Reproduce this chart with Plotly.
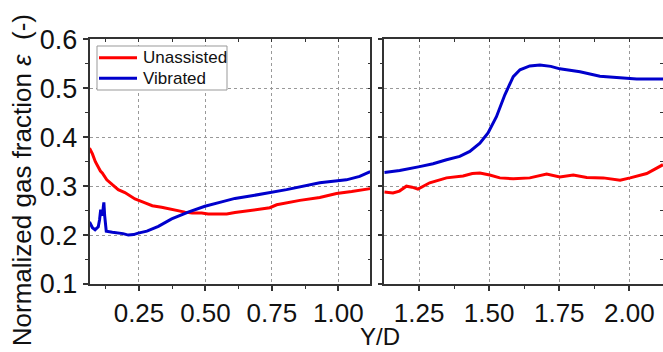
import plotly.graph_objects as go

# ---- data ----
uL_x = [0.064, 0.075, 0.086, 0.097, 0.105, 0.112, 0.118, 0.122, 0.129, 0.15, 0.172, 0.197, 0.235,
        0.273, 0.30, 0.335, 0.385, 0.423, 0.45, 0.486, 0.51, 0.548, 0.58, 0.611, 0.68, 0.742,
        0.768, 0.805, 0.855, 0.93, 0.993, 1.05, 1.12]
uL_y = [0.378, 0.366, 0.350, 0.338, 0.331, 0.327, 0.322, 0.320, 0.313, 0.303, 0.293, 0.287, 0.274,
        0.266, 0.260, 0.257, 0.251, 0.247, 0.245, 0.245, 0.243, 0.243, 0.243, 0.246, 0.251, 0.256,
        0.262, 0.266, 0.271, 0.277, 0.285, 0.289, 0.295]

vL_x = [0.064, 0.075, 0.085, 0.097, 0.102, 0.106, 0.110, 0.113, 0.116, 0.118, 0.121, 0.124, 0.127,
        0.15, 0.172, 0.19, 0.21, 0.23, 0.247, 0.28, 0.323, 0.373, 0.435, 0.498, 0.561, 0.611,
        0.68, 0.805, 0.93, 1.03, 1.08, 1.12]
vL_y = [0.227, 0.215, 0.211, 0.217, 0.232, 0.252, 0.243, 0.240, 0.258, 0.267, 0.240, 0.212, 0.208,
        0.206, 0.205, 0.203, 0.200, 0.201, 0.204, 0.208, 0.218, 0.233, 0.247, 0.259, 0.268, 0.275,
        0.281, 0.293, 0.307, 0.313, 0.320, 0.330]

uR_x = [1.126, 1.157, 1.18, 1.205, 1.225, 1.246, 1.265, 1.288, 1.348, 1.407, 1.44, 1.467, 1.502,
        1.538, 1.586, 1.645, 1.705, 1.752, 1.8, 1.848, 1.907, 1.967, 2.003, 2.062, 2.12]
uR_y = [0.288, 0.286, 0.290, 0.300, 0.298, 0.294, 0.300, 0.307, 0.317, 0.321, 0.326, 0.327, 0.323,
        0.317, 0.315, 0.317, 0.325, 0.319, 0.323, 0.318, 0.317, 0.312, 0.317, 0.326, 0.344]

vR_x = [1.126, 1.181, 1.252, 1.30, 1.348, 1.395, 1.431, 1.467, 1.496, 1.526, 1.556, 1.586, 1.61,
        1.645, 1.681, 1.72, 1.752, 1.824, 1.895, 1.967, 2.026, 2.12]
vR_y = [0.328, 0.332, 0.340, 0.346, 0.354, 0.361, 0.371, 0.388, 0.409, 0.442, 0.487, 0.524, 0.538,
        0.546, 0.548, 0.545, 0.540, 0.534, 0.525, 0.522, 0.519, 0.519]

series_names = ["Unassisted", "Vibrated"]
series_colors = ["#ff0000", "#0000cc"]

xL_ticks = [0.25, 0.50, 0.75, 1.00]
xR_ticks = [1.25, 1.50, 1.75, 2.00]
y_ticks = [0.1, 0.2, 0.3, 0.4, 0.5, 0.6]

FONT = "Liberation Sans, Arial, sans-serif"
AX = "#333333"
W, H = 663, 352

fig = go.Figure()
fig.add_trace(go.Scatter(x=uL_x, y=uL_y, mode="lines", name=series_names[0], showlegend=False,
                         line=dict(color=series_colors[0], width=3), xaxis="x", yaxis="y"))
fig.add_trace(go.Scatter(x=vL_x, y=vL_y, mode="lines", name=series_names[1], showlegend=False,
                         line=dict(color=series_colors[1], width=3), xaxis="x", yaxis="y"))
fig.add_trace(go.Scatter(x=uR_x, y=uR_y, mode="lines", name=series_names[0], showlegend=False,
                         line=dict(color=series_colors[0], width=3), xaxis="x2", yaxis="y2"))
fig.add_trace(go.Scatter(x=vR_x, y=vR_y, mode="lines", name=series_names[1], showlegend=False,
                         line=dict(color=series_colors[1], width=3), xaxis="x2", yaxis="y2"))
# dummy traces so the mirror (inside-tick) axes render
fig.add_trace(go.Scatter(x=[None], y=[None], xaxis="x3", yaxis="y3", showlegend=False, hoverinfo="skip"))
fig.add_trace(go.Scatter(x=[None], y=[None], xaxis="x4", yaxis="y4", showlegend=False, hoverinfo="skip"))

ydom = [0.1932, 0.8878]
xdomL = [0.135, 0.5585]
xdomR = [0.5796, 1.0]
xrL = [0.064, 1.12]
xrR = [1.126, 2.12]
yr = [0.1, 0.6]

def xmain(dom, rng, ticks, anchor):
    return dict(domain=dom, range=rng, anchor=anchor, tickvals=ticks, automargin=False,
                ticktext=["%.2f" % t for t in ticks], ticks="outside", ticklen=5, tickwidth=1.5,
                tickcolor=AX, showline=True, linecolor=AX, linewidth=1.5, showgrid=True,
                gridcolor="#999999", griddash="dot", gridwidth=1, zeroline=False,
                tickfont=dict(size=26, color="#111", family=FONT),
                minor=dict(ticks="outside", ticklen=3, tickwidth=1.2, tickcolor=AX,
                           dtick=0.125, tick0=0, showgrid=False))

def ymain(anchor, labels):
    return dict(domain=ydom, range=yr, anchor=anchor, tickvals=y_ticks, automargin=False,
                ticktext=["%.1f" % t for t in y_ticks], showticklabels=labels,
                ticks="outside", ticklen=5, tickwidth=1.5, tickcolor=AX, showline=True,
                linecolor=AX, linewidth=1.5, showgrid=True, gridcolor="#999999", griddash="dot",
                gridwidth=1, zeroline=False, tickfont=dict(size=27, color="#111", family=FONT),
                minor=dict(ticks="outside", ticklen=3, tickwidth=1.2, tickcolor=AX,
                           dtick=0.05, tick0=0, showgrid=False))

def xmirror(over, rng, anchor):
    return dict(overlaying=over, side="top", anchor=anchor, range=rng, showticklabels=False,
                ticks="inside", ticklen=3, tickwidth=1.2, tickcolor=AX, dtick=0.125, tick0=0,
                automargin=False, showline=True, linecolor=AX, linewidth=1.5, showgrid=False,
                zeroline=False)

def ymirror(over, anchor):
    return dict(overlaying=over, side="right", anchor=anchor, range=yr, showticklabels=False,
                ticks="inside", ticklen=3, tickwidth=1.2, tickcolor=AX, dtick=0.05, tick0=0,
                automargin=False, showline=True, linecolor=AX, linewidth=1.5, showgrid=False,
                zeroline=False)

def px(x):
    return x / W

def py(y):
    return (H - y) / H

# legend box (drawn in paper coordinates)
leg_rows_y = [57.7, 78.3]
shapes = [dict(type="rect", xref="paper", yref="paper", x0=px(97), x1=px(227), y0=py(90), y1=py(46),
               line=dict(color="#999999", width=1), fillcolor="white", layer="above")]
annotations = []
for name, col, ry in zip(series_names, series_colors, leg_rows_y):
    shapes.append(dict(type="line", xref="paper", yref="paper", x0=px(99), x1=px(137),
                       y0=py(ry), y1=py(ry), line=dict(color=col, width=3), layer="above"))
    annotations.append(dict(text=name, xref="paper", yref="paper", x=px(141), y=py(ry),
                            xanchor="left", yanchor="middle", showarrow=False,
                            font=dict(size=17, family=FONT, color="#111")))

annotations += [
    dict(text="Normalized gas fraction <i>ε</i>  (-)", textangle=-90, xref="paper",
         yref="paper", x=22 / W, y=0.488, xanchor="center", yanchor="middle",
         showarrow=False, font=dict(size=26, family=FONT, color="#111")),
    dict(text="Y/D", xref="paper", yref="paper", x=380 / W, y=0.0,
         xanchor="center", yanchor="bottom", showarrow=False,
         font=dict(size=24, family=FONT, color="#111")),
]

fig.update_layout(
    template="none",
    width=W, height=H,
    margin=dict(l=0, r=0, t=0, b=0, pad=0),
    paper_bgcolor="white", plot_bgcolor="white",
    font=dict(family=FONT, color="#111"),
    xaxis=xmain(xdomL, xrL, xL_ticks, "y"),
    yaxis=ymain("x", True),
    xaxis2=xmain(xdomR, xrR, xR_ticks, "y2"),
    yaxis2=ymain("x2", False),
    xaxis3=xmirror("x", xrL, "y"),
    yaxis3=ymirror("y", "x"),
    xaxis4=xmirror("x2", xrR, "y2"),
    yaxis4=ymirror("y2", "x2"),
    showlegend=False,
    shapes=shapes,
    annotations=annotations,
)

fig.write_html("out.html")
